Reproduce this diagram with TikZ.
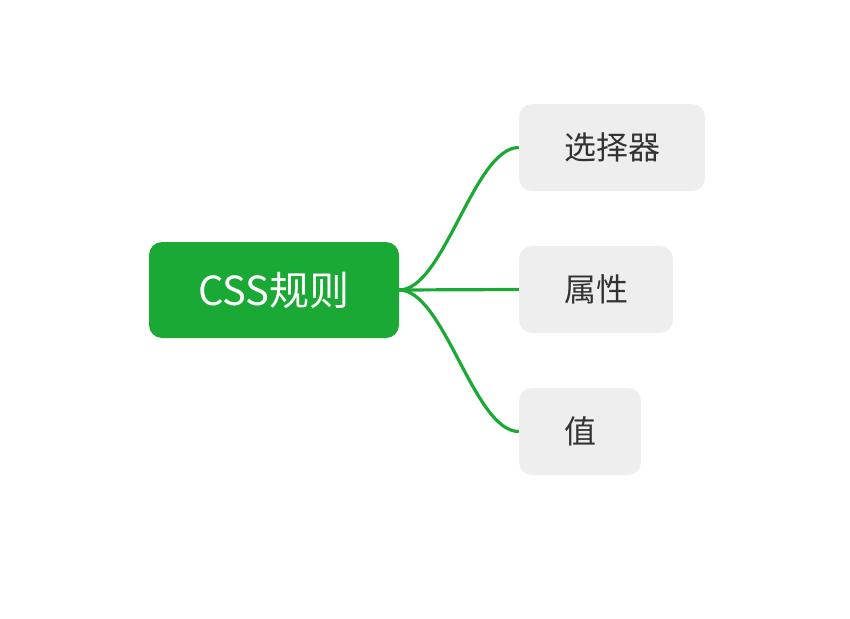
\documentclass[tikz,border=0pt]{standalone}
\usepackage{fontspec}
\setmainfont{Noto Sans CJK SC}
\definecolor{rootgreen}{HTML}{19A934}
\definecolor{leafgray}{HTML}{EEEEEE}
\definecolor{leaftext}{HTML}{333333}
\tikzset{
  rootbox/.style={fill=rootgreen, rounded corners=13pt, text=white, minimum width=250pt, minimum height=96pt, inner sep=0pt, font=\fontsize{40}{44}\selectfont},
  leafbox/.style={fill=leafgray, rounded corners=13pt, text=leaftext, minimum height=87pt, inner sep=0pt, font=\fontsize{32}{36}\selectfont},
  branch/.style={rootgreen, line width=3.2pt}
}
\begin{document}
\begin{tikzpicture}[x=1pt,y=-1pt]
        \useasboundingbox (0,0) rectangle (850,618);
        \node [rootbox] (css) at (274,290) {CSS规则};
        \node [leafbox, minimum width=186pt] (selector) at (612,147.5) {选择器};
        \node [leafbox, minimum width=154pt] (property) at (596,289.5) {属性};
        \node [leafbox, minimum width=122pt] (value) at (580,431.5) {值};
        \draw [branch] (css.east) .. controls +(45,0) and +(-45,0) .. (selector.west);
        \draw [branch] (css.east) -- (property.west);
        \draw [branch] (css.east) .. controls +(45,0) and +(-45,0) .. (value.west);
    \end{tikzpicture}
\end{document}
